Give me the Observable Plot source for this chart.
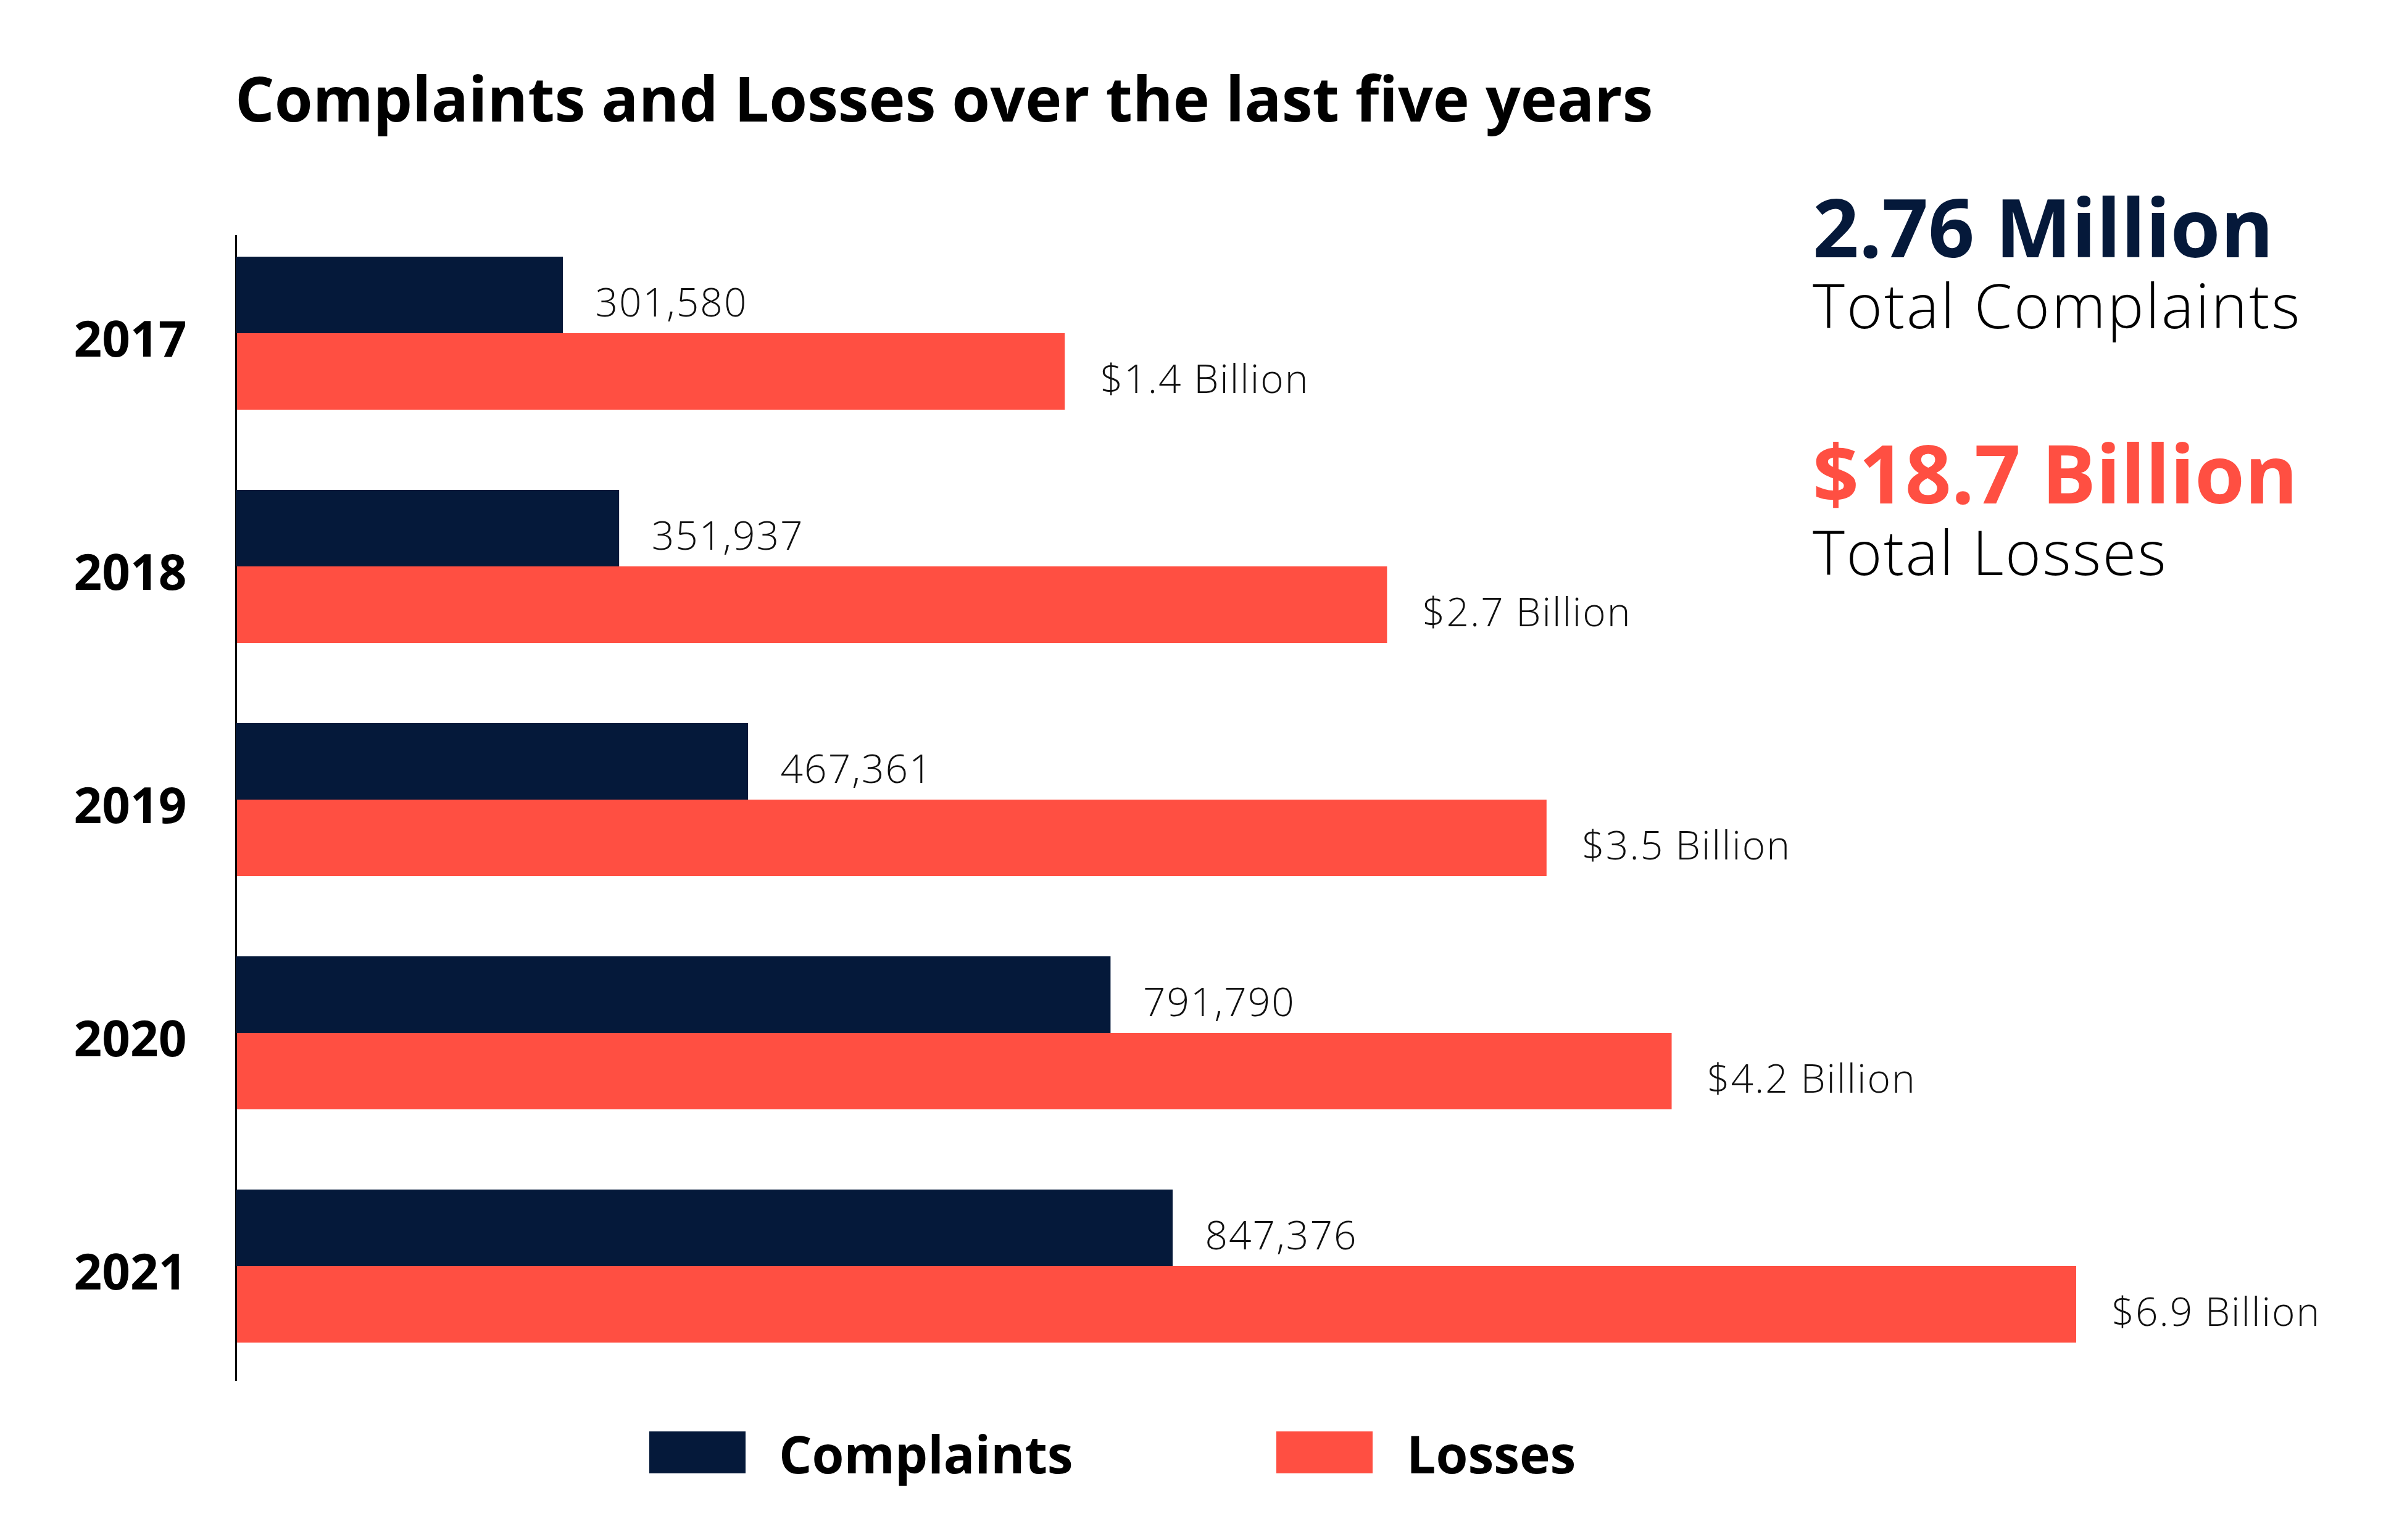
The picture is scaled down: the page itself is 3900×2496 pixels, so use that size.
<!DOCTYPE html>
<html>
<head>
<meta charset="utf-8">
<script src="https://cdn.jsdelivr.net/npm/d3@7"></script>
<script src="https://cdn.jsdelivr.net/npm/@observablehq/plot@0.6"></script>
<style>
  html, body { margin: 0; padding: 0; background: #fff; }
  #wrap { position: relative; width: 3900px; height: 2496px; overflow: hidden; background: #fff; }
  #wrap svg { position: absolute; left: 0; top: 0; }
  #wrap svg text.lbl, #wrap svg g.lbl text { letter-spacing: 2px; }
  .t { position: absolute; white-space: nowrap; line-height: 0.75; }
  .sw { position: absolute; }
</style>
</head>
<body>
<div id="wrap"></div>
<script>
// ---- data ----
const years = ["2017", "2018", "2019", "2020", "2021"];
const complaints = [301580, 351937, 467361, 791790, 847376];
const losses = [1.4, 2.7, 3.5, 4.2, 6.9]; // billions of US dollars
const seriesNames = ["Complaints", "Losses"];
const seriesColors = ["#05193A", "#FF4F42"];
const titleText = "Complaints and Losses over the last five years";
const totalComplaintsLabel = "Total Complaints";
const totalLossesLabel = "Total Losses";

const table = years.map((year, i) => ({
  year,
  complaints: complaints[i],
  losses: losses[i],
  complaintLabel: d3.format(",")(complaints[i]),
  lossLabel: `$${losses[i]} Billion`
}));
const totalComplaints = `${(d3.sum(complaints) / 1e6).toFixed(2)} Million`;
const totalLosses = `$${d3.sum(losses).toFixed(1)} Billion`;

// ---- styling ----
const LIGHT = "'Open Sans', 'Noto Sans', Lato, sans-serif";
const BOLD = "'Open Sans', 'Noto Sans', Lato, sans-serif";
const W = 3900, H = 2496;
const M = {top: 381, bottom: 258, left: 382, right: 536};
const yScale = {domain: years, paddingInner: 0.344, paddingOuter: 0.128, align: 0.36, axis: null};
const half = 124;
const labelSize = 64;
const yearSize = 80;

const wrap = document.getElementById("wrap");

// Losses (bar length follows a square-root scale in the original)
const lossPlot = Plot.plot({
  width: W, height: H,
  marginTop: M.top, marginBottom: M.bottom, marginLeft: M.left, marginRight: M.right,
  x: {type: "sqrt", domain: [0, 6.9], axis: null},
  y: yScale,
  style: {background: "transparent", fontFamily: LIGHT, color: "#000", overflow: "visible"},
  marks: [
    Plot.barX(table, {x: "losses", y: "year", fill: seriesColors[1], insetTop: half}),
    Plot.text(table, {x: "losses", y: "year", text: "lossLabel", textAnchor: "start",
      dx: 57, dy: 96 - 0.32 * labelSize, fontSize: labelSize, fontWeight: 300, fill: "#111"}),
    Plot.text(table, {y: "year", text: "year", frameAnchor: "left", textAnchor: "end",
      dx: -80, dy: 37 - 0.32 * yearSize, fontSize: yearSize, fontWeight: 700, fontFamily: BOLD, fill: "#000"}),
    Plot.ruleX([0], {stroke: "#000", strokeWidth: 3})
  ]
});

// Complaints (linear scale)
const complaintPlot = Plot.plot({
  width: W, height: H,
  marginTop: M.top, marginBottom: M.bottom, marginLeft: M.left, marginRight: M.right,
  x: {type: "linear", domain: [8800, 847376], range: [M.left, 1900], axis: null},
  y: yScale,
  style: {background: "transparent", fontFamily: LIGHT, color: "#000", overflow: "visible"},
  marks: [
    Plot.barX(table, {x: "complaints", y: "year", fill: seriesColors[0], insetBottom: half, clip: true}),
    Plot.text(table, {x: "complaints", y: "year", text: "complaintLabel", textAnchor: "start",
      dx: 52, dy: -28 - 0.32 * labelSize, fontSize: labelSize, fontWeight: 300, fill: "#111"})
  ]
});

wrap.appendChild(lossPlot);
wrap.appendChild(complaintPlot);

// value labels get a little letter spacing (wider original typeface)
for (const svg of [lossPlot, complaintPlot]) {
  svg.querySelectorAll("text").forEach(t => {
    if (!years.includes(t.textContent)) t.style.letterSpacing = "2px";
  });
}

// ---- HTML texts placed by baseline ----
function place(text, x, baseline, size, weight, color, family, spacing = 0) {
  const d = document.createElement("div");
  d.className = "t";
  d.textContent = text;
  d.style.left = x + "px";
  d.style.top = "0px";
  d.style.fontSize = size + "px";
  d.style.fontWeight = weight;
  d.style.color = color;
  d.style.fontFamily = family;
  d.style.letterSpacing = spacing + "px";
  const m = document.createElement("span");
  m.style.cssText = "display:inline-block;width:0;height:0;vertical-align:baseline;";
  d.appendChild(m);
  wrap.appendChild(d);
  d.style.top = (baseline - m.offsetTop) + "px";
  return d;
}
function swatch(x, y, w, h, color) {
  const s = document.createElement("div");
  s.className = "sw";
  s.style.cssText += `left:${x}px;top:${y}px;width:${w}px;height:${h}px;background:${color};`;
  wrap.appendChild(s);
}

place(titleText, 381, 197, 100, 700, "#000", BOLD);
place(totalComplaints, 2937, 417, 131, 700, seriesColors[0], BOLD);
place(totalComplaintsLabel, 2937, 532, 99, 300, "#000", LIGHT, 3);
place(totalLosses, 2937, 816, 131, 700, seriesColors[1], BOLD);
place(totalLossesLabel, 2937, 932, 99, 300, "#000", LIGHT, 2.5);

swatch(1052, 2320, 156, 68, seriesColors[0]);
place(seriesNames[0], 1262, 2388, 84, 700, "#000", BOLD);
swatch(2068, 2320, 156, 68, seriesColors[1]);
place(seriesNames[1], 2279, 2388, 84, 700, "#000", BOLD);
</script>
</body>
</html>
